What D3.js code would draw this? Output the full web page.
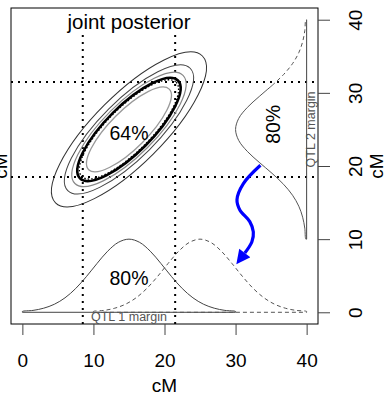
<!DOCTYPE html>
<html>
<head>
<meta charset="utf-8">
<script src="https://cdn.jsdelivr.net/npm/d3@7"></script>
<style>
  body { margin: 0; background: #fff; }
  svg text { font-family: "Liberation Sans", Arial, Helvetica, sans-serif; }
</style>
</head>
<body>
<div id="chart"></div>
<script>
// size of svg and the plot box inside it
const svg_w = 387;
const svg_h = 396;
const box = { left: 11, right: 318, top: 8, bottom: 324 };

// axis ticks (cM)
const tickVals = [0, 10, 20, 30, 40];

// 80% intervals for each QTL (dotted lines)
const qtl1Interval = [8.5, 21.5];
const qtl2Interval = [18.5, 31.5];

// marginal curve profile: offset from centre (cM) and height
const bumpOffsets = [-15, -13.5, -12, -10.5, -9, -7.5, -6, -4.5, -3, -1.5, 0, 1.5, 3, 4.5, 6, 7.5, 9, 10.5, 12, 13.5, 15];
const bumpHeights = [0.11, 0.26, 0.56, 1.1, 1.98, 3.25, 4.87, 6.67, 8.35, 9.56, 10, 9.56, 8.35, 6.67, 4.87, 3.25, 1.98, 1.1, 0.56, 0.26, 0.11];
// centres of bottom curves (solid, dashed) and of the right curve
const qtl1Centres = [15, 25];
const qtl2Centre = 25;

// joint posterior contours, centre and semi axes (cM)
const jointCentre = [15, 25];
const contourMajor = [14.4, 12.0, 10.6, 9.6, 9.25, 7.9];
const contourMinor = [4.8, 4.0, 3.6, 3.2, 3.05, 2.6];

// blue arrow path (cM)
const arrowX = [33.5, 31.1, 30.2, 30.6, 32.0, 32.5, 32.3, 31.3];
const arrowY = [20.1, 17.6, 15.4, 14.0, 12.4, 11.0, 9.65, 8.1];

const x = d3.scaleLinear().domain([-1.6, 41.6]).range([box.left, box.right]);
const y = d3.scaleLinear().domain([-1.6, 41.6]).range([box.bottom, box.top]);

const svg = d3.select("#chart")
    .append("svg")
    .attr("width", svg_w)
    .attr("height", svg_h);

// arrow head
svg.append("defs").append("marker")
    .attr("id", "head")
    .attr("viewBox", "0 0 10 10")
    .attr("refX", 0)
    .attr("refY", 5)
    .attr("markerUnits", "userSpaceOnUse")
    .attr("markerWidth", 15)
    .attr("markerHeight", 14)
    .attr("orient", "auto")
    .append("path")
    .attr("d", "M0,0 L10,5 L0,10 Z")
    .attr("fill", "#0000ff");

// dotted interval lines
svg.selectAll(".vdot")
    .data(qtl1Interval)
    .enter()
    .append("line")
    .attr("x1", d => x(d)).attr("x2", d => x(d))
    .attr("y1", y(-1.6)).attr("y2", y(38.5))
    .attr("stroke", "#000")
    .attr("stroke-width", 2)
    .attr("stroke-dasharray", "2,5");

svg.selectAll(".hdot")
    .data(qtl2Interval)
    .enter()
    .append("line")
    .attr("x1", x(-1.6)).attr("x2", x(41.4))
    .attr("y1", d => y(d)).attr("y2", d => y(d))
    .attr("stroke", "#000")
    .attr("stroke-width", 2)
    .attr("stroke-dasharray", "2,5");

// joint posterior contours
const cStroke = ["#333", "#444", "#888", "#000", "#000", "#999"];
const cWidth = [1, 1, 1.2, 2.6, 1.4, 1.3];
const cDash = [null, null, null, null, "1.5,2", null];
const semi = a => Math.hypot(x(a / Math.SQRT2) - x(0), y(0) - y(a / Math.SQRT2));

svg.selectAll(".contour")
    .data(contourMajor)
    .enter()
    .append("ellipse")
    .attr("transform", `translate(${x(jointCentre[0])},${y(jointCentre[1])}) rotate(-45)`)
    .attr("rx", d => semi(d))
    .attr("ry", (d, i) => semi(contourMinor[i]))
    .attr("fill", "none")
    .attr("stroke", (d, i) => cStroke[i])
    .attr("stroke-width", (d, i) => cWidth[i])
    .attr("stroke-dasharray", (d, i) => cDash[i]);

// bottom marginal curves (closed along y = 0)
const lineXY = d3.line().x(d => x(d[0])).y(d => y(d[1])).curve(d3.curveCatmullRom);
qtl1Centres.forEach((c, i) => {
    const pts = [[c - 15, 0]].concat(bumpOffsets.map((o, j) => [c + o, bumpHeights[j]]), [[c + 15, 0]]);
    svg.append("path")
        .attr("d", lineXY(pts) + "Z")
        .attr("fill", "none")
        .attr("stroke", i === 0 ? "#444" : "#555")
        .attr("stroke-width", 1)
        .attr("stroke-dasharray", i === 0 ? null : "4,3");
});

// right marginal curve (closed along x = 40), upper tail dashed
const rightPts = bumpOffsets.map((o, j) => [40 - bumpHeights[j], qtl2Centre + o]);
const solidPart = [[40, qtl2Centre + 15], [40, qtl2Centre - 15]].concat(rightPts.filter((d, j) => bumpOffsets[j] <= 6));
const dashPart = rightPts.filter((d, j) => bumpOffsets[j] >= 6).concat([[40, qtl2Centre + 15]]);
svg.append("path")
    .attr("d", d3.line().x(d => x(d[0])).y(d => y(d[1]))(solidPart.slice(0, 2)) )
    .attr("fill", "none").attr("stroke", "#444").attr("stroke-width", 1);
svg.append("path")
    .attr("d", lineXY(solidPart.slice(1)))
    .attr("fill", "none").attr("stroke", "#555").attr("stroke-width", 1);
svg.append("path")
    .attr("d", lineXY(dashPart))
    .attr("fill", "none").attr("stroke", "#555").attr("stroke-width", 1)
    .attr("stroke-dasharray", "4,3");

// blue arrow
svg.append("path")
    .attr("d", d3.line().x(d => x(d[0])).y(d => y(d[1])).curve(d3.curveCatmullRom)(arrowX.map((v, i) => [v, arrowY[i]])))
    .attr("fill", "none")
    .attr("stroke", "#0000ff")
    .attr("stroke-width", 3.2)
    .attr("marker-end", "url(#head)");

// plot box
svg.append("rect")
    .attr("x", box.left).attr("y", box.top)
    .attr("width", box.right - box.left).attr("height", box.bottom - box.top)
    .attr("fill", "none").attr("stroke", "#000");

// x axis
const xAxis = svg.append("g")
    .attr("transform", `translate(0,${box.bottom})`)
    .call(d3.axisBottom(x).tickValues(tickVals).tickSize(11).tickPadding(19));
xAxis.select(".domain").remove();
xAxis.selectAll("text").attr("font-size", 19).attr("fill", "#000").attr("font-family", null);
xAxis.selectAll("line").attr("stroke", "#444");

// y axis on the right, rotated labels
const yAxis = svg.append("g")
    .attr("transform", `translate(${box.right},0)`)
    .call(d3.axisRight(y).tickValues(tickVals).tickSize(12));
yAxis.select(".domain").remove();
yAxis.selectAll("line").attr("stroke", "#444");
yAxis.selectAll("text")
    .attr("x", null).attr("dy", null)
    .attr("transform", "translate(44,0) rotate(-90)")
    .attr("text-anchor", "middle")
    .attr("font-size", 19).attr("fill", "#000").attr("font-family", null);

// axis titles
svg.append("text")
    .attr("x", (box.left + box.right) / 2).attr("y", 392)
    .attr("text-anchor", "middle").attr("font-size", 19)
    .text("cM");
svg.append("text")
    .attr("transform", `translate(383,${(box.top + box.bottom) / 2}) rotate(-90)`)
    .attr("text-anchor", "middle").attr("font-size", 19)
    .text("cM");
svg.append("text")
    .attr("transform", `translate(7,${(box.top + box.bottom) / 2}) rotate(-90)`)
    .attr("text-anchor", "middle").attr("font-size", 19)
    .text("cM");

// labels inside the plot
svg.append("text")
    .attr("x", x(15)).attr("y", 29)
    .attr("text-anchor", "middle").attr("font-size", 20.5)
    .text("joint posterior");
svg.append("text")
    .attr("x", x(15)).attr("y", y(24.5)).attr("dy", "0.35em")
    .attr("text-anchor", "middle").attr("font-size", 19.5)
    .text("64%");
svg.append("text")
    .attr("x", x(15)).attr("y", y(4.7)).attr("dy", "0.35em")
    .attr("text-anchor", "middle").attr("font-size", 19.5)
    .text("80%");
svg.append("text")
    .attr("transform", `translate(${x(35.3)},${y(25.7)}) rotate(-90)`)
    .attr("dy", "0.35em")
    .attr("text-anchor", "middle").attr("font-size", 19.5)
    .text("80%");
svg.append("text")
    .attr("x", x(15)).attr("y", 321)
    .attr("text-anchor", "middle").attr("font-size", 12.5).attr("fill", "#555")
    .text("QTL 1 margin");
svg.append("text")
    .attr("transform", `translate(315,${y(25)}) rotate(-90)`)
    .attr("text-anchor", "middle").attr("font-size", 12.5).attr("fill", "#555")
    .text("QTL 2 margin");
</script>
</body>
</html>
